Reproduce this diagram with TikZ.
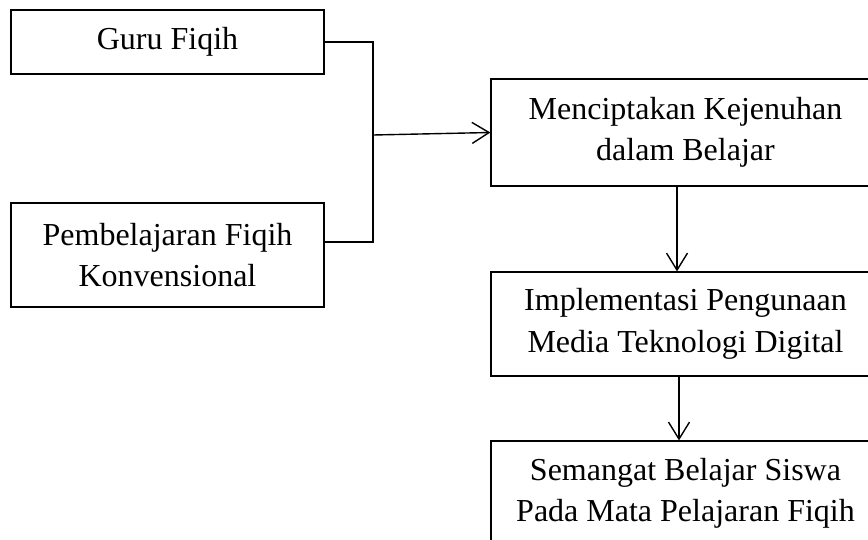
\documentclass[tikz,border=0pt]{standalone}
\usepackage{fontspec}
\setmainfont{Liberation Serif}
\usetikzlibrary{arrows.meta}
\begin{document}
\begin{tikzpicture}[x=1pt,y=-1pt,
  txt/.style={font=\fontsize{32}{41.5}\selectfont},
  box/.style={txt,draw,line width=1.2pt,rectangle,align=center,inner sep=0pt},
  conn/.style={line width=1.4pt},
  arr/.style={conn,-{Straight Barb[length=17pt,width=21pt,line width=1.4pt]}}]
\useasboundingbox (0,0) rectangle (868,539);
\clip (0,0) rectangle (868,539);
\node[box,minimum width=313pt,minimum height=64pt] (guru) at (167.5,42) {Guru Fiqih};
\node[box,minimum width=313pt,minimum height=104pt] (pemb) at (167.5,255) {Pembelajaran Fiqih\\Konvensional};
\node[box,minimum width=389pt,minimum height=107pt] (menc) at (685.5,132.5) {Menciptakan Kejenuhan\\dalam Belajar};
\node[box,minimum width=389pt,minimum height=104pt] (impl) at (685.5,324) {Implementasi Pengunaan\\Media Teknologi Digital};
\node[box,minimum width=389pt,minimum height=119pt] (sema) at (685.5,500.5) {};
\node[txt,inner sep=0pt,anchor=base] (semaa) at (685.5,480) {Semangat Belajar Siswa};
\node[txt,inner sep=0pt,anchor=base] (semab) at (685.5,521.7) {Pada Mata Pelajaran Fiqih};
\coordinate (jt) at (373,42);
\coordinate (jb) at (373,242);
\coordinate (jm) at (373,135);
\draw[conn] (guru.east) -- (jt) -- (jb) -- (pemb.east |- jb);
\draw[arr] (jm) -- (menc.west);
\draw[arr] ([xshift=-8.5pt]menc.south) -- ([xshift=-8.5pt]impl.north);
\draw[arr] ([xshift=-6.5pt]impl.south) -- ([xshift=-6.5pt]sema.north);
\end{tikzpicture}
\end{document}
